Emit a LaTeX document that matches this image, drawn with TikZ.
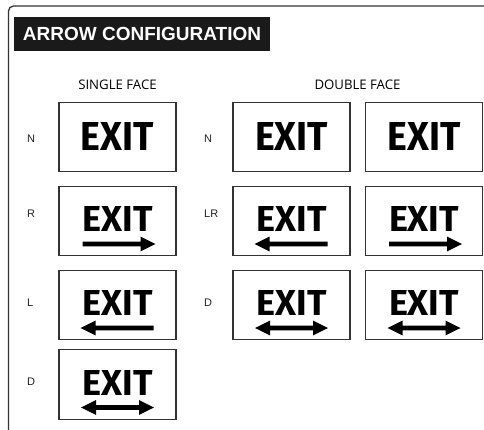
\documentclass[tikz,border=0pt]{standalone}
\usepackage{fontspec}
\usepackage{graphicx}
\setmainfont{Liberation Sans}
\newfontfamily\headfont{Open Sans}
\newfontfamily\exitfont{Fira Sans}
\definecolor{framecol}{HTML}{333333}
\definecolor{labelcol}{HTML}{222222}
\definecolor{titlefill}{HTML}{1A1A1A}
\tikzset{
  signbox/.style={draw=framecol, line width=1.3pt, minimum width=117pt, minimum height=69.5pt, inner sep=0pt},
  exittext/.style={inner sep=0pt, text=black},
  rowlabel/.style={anchor=west, inner sep=0pt, text=labelcol, font=\fontsize{11}{13}\selectfont},
  header/.style={inner sep=0pt, text=black, font=\headfont\fontsize{13.2}{15}\selectfont},
  titlebox/.style={fill=titlefill, text=white, minimum width=256pt, minimum height=34pt, inner sep=0pt, font=\bfseries\fontsize{19}{22}\selectfont},
  arrowfill/.style={fill=black}
}
\newcommand\rarrowpath{(-36.5,-2.4) -- (21.5,-2.4) -- (21.5,-7.4) -- (36.5,0) -- (21.5,7.4) -- (21.5,2.4) -- (-36.5,2.4) -- cycle}
\newcommand\darrowpath{(-36.5,0) -- (-21.5,-7.4) -- (-21.5,-2.4) -- (21.5,-2.4) -- (21.5,-7.4) -- (36.5,0) -- (21.5,7.4) -- (21.5,2.4) -- (-21.5,2.4) -- (-21.5,7.4) -- cycle}
% #1 name, #2 cx, #3 cy, #4 type (0 none, 1 right, 2 left, 3 double)
\newcommand\mysign[4]{%
  \node[signbox] (#1) at (#2,#3) {};
  \ifcase#4
    \node[exittext] (#1t) at (#2,#3-1) {\resizebox{73pt}{28pt}{\exitfont\bfseries EXIT}};
  \or
    \node[exittext] (#1t) at (#2,#3-2) {\resizebox{70pt}{25pt}{\exitfont\bfseries EXIT}};
    \fill[arrowfill, shift={(#2+1.5,#3+23)}] \rarrowpath;
  \or
    \node[exittext] (#1t) at (#2,#3-2) {\resizebox{70pt}{25pt}{\exitfont\bfseries EXIT}};
    \fill[arrowfill, shift={(#2-0.5,#3+23)}, xscale=-1] \rarrowpath;
  \or
    \node[exittext] (#1t) at (#2,#3-2) {\resizebox{70pt}{25pt}{\exitfont\bfseries EXIT}};
    \fill[arrowfill, shift={(#2,#3+23)}] \darrowpath;
  \fi}
\begin{document}
\begin{tikzpicture}[x=1pt, y=-1pt]
\useasboundingbox (0,0) rectangle (484,429);
\fill[white] (0,0) rectangle (484,429);
% outer frame
\draw[framecol, line width=1.3pt, rounded corners=5pt] (8.5,440) -- (8.5,6) -- (495,6);
% title
\node[titlebox] (title) at (142,34) {ARROW CONFIGURATION};
% headers
\node[header] (hsingle) at (117.5,85) {SINGLE FACE};
\node[header] (hdouble) at (357.5,85) {DOUBLE FACE};
% single face
\mysign{s1}{117.5}{137}{0}
\mysign{s2}{117.5}{221}{1}
\mysign{s3}{117.5}{305}{2}
\mysign{s4}{117.5}{384.5}{3}
% double face
\mysign{da1}{291.5}{137}{0}
\mysign{db1}{424}{137}{0}
\mysign{da2}{291.5}{221}{2}
\mysign{db2}{424}{221}{1}
\mysign{da3}{291.5}{305}{3}
\mysign{db3}{424}{305}{3}
% row labels
\node[rowlabel] (ln1) at (27,139) {N};
\node[rowlabel] (lr1) at (27,214) {R};
\node[rowlabel] (ll1) at (27,303) {L};
\node[rowlabel] (ld1) at (27,382) {D};
\node[rowlabel] (ln2) at (204,139) {N};
\node[rowlabel] (llr2) at (204,214) {LR};
\node[rowlabel] (ld2) at (204,303) {D};
\end{tikzpicture}
\end{document}
